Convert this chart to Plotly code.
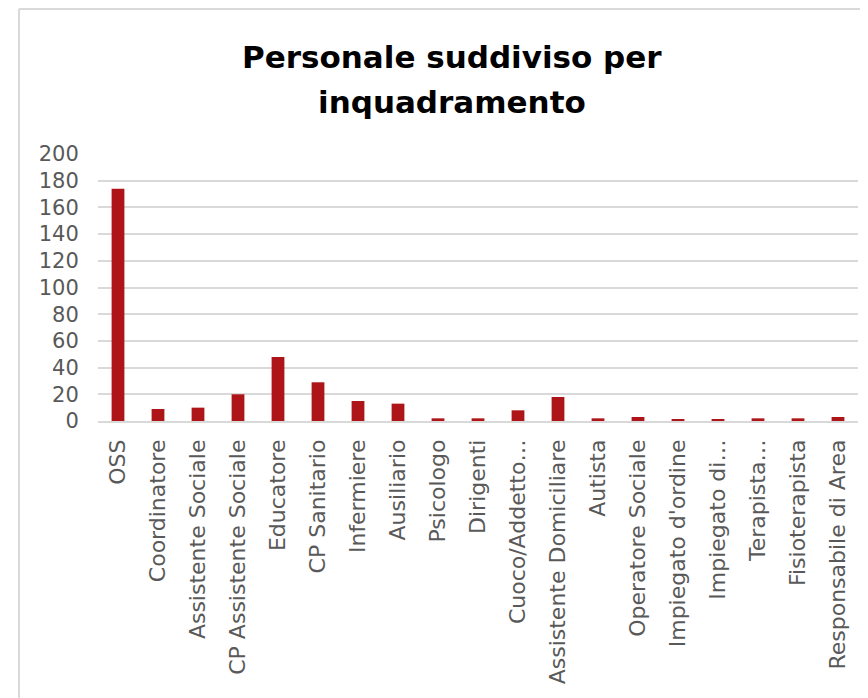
import plotly.graph_objects as go

categories = ["OSS", "Coordinatore", "Assistente Sociale", "CP Assistente Sociale",
              "Educatore", "CP Sanitario", "Infermiere", "Ausiliario", "Psicologo",
              "Dirigenti", "Cuoco/Addetto…", "Assistente Domiciliare", "Autista",
              "Operatore Sociale", "Impiegato d'ordine", "Impiegato di…", "Terapista…",
              "Fisioterapista", "Responsabile di Area"]
values = [174, 9, 10, 20, 48, 29, 15, 13, 2, 2, 8, 18, 2, 3, 1, 1, 2, 2, 3]
y_ticks = [0, 20, 40, 60, 80, 100, 120, 140, 160, 180, 200]
title_lines = ["Personale suddiviso per", "inquadramento"]

# page body has an 8px margin; work in screen pixels and subtract it
OFF = 8
W, H = 868 - OFF, 698 - OFF
ML = 98 - OFF
MT = 154 - OFF
PLOT_BOTTOM = 421 - OFF
PLOT_RIGHT = 858 - OFF
MB = H - PLOT_BOTTOM
MR = W - PLOT_RIGHT
PW, PH = W - ML - MR, H - MT - MB


def px_x(p):
    return (p - OFF - ML) / PW


def px_y(p):
    return (PLOT_BOTTOM - (p - OFF)) / PH


fig = go.Figure(go.Bar(x=categories, y=values, marker_color="#AE1518",
                       marker_line_width=0))

annotations = []
for line, cy in zip(title_lines, [57, 102]):
    annotations.append(dict(text="<b>%s</b>" % line, xref="paper", yref="paper",
                            x=px_x(452), y=px_y(cy), xanchor="center", yanchor="middle",
                            showarrow=False,
                            font=dict(family="DejaVu Sans", size=31, color="#000000")))

fig.update_layout(
    width=W, height=H,
    margin=dict(l=ML, r=MR, t=MT, b=MB, pad=0),
    paper_bgcolor="white", plot_bgcolor="white",
    bargap=0.68,
    showlegend=False,
    font=dict(family="DejaVu Sans", color="#595959"),
    annotations=annotations,
    xaxis=dict(tickangle=-90, tickfont=dict(size=22, color="#595959"),
               showline=True, linecolor="#D9D9D9", linewidth=1.5,
               ticks="outside", ticklen=8, tickcolor="rgba(0,0,0,0)",
               showgrid=False),
    yaxis=dict(range=[0, 200], tickvals=y_ticks, tickfont=dict(size=21, color="#595959"),
               showgrid=True, gridcolor="#D9D9D9", gridwidth=1.5,
               zeroline=False, showline=False, ticks="outside", ticklen=14,
               tickcolor="rgba(0,0,0,0)"),
    shapes=[
        dict(type="line", xref="paper", yref="paper",
             x0=px_x(19), x1=px_x(880), y0=px_y(9), y1=px_y(9),
             line=dict(color="#D9D9D9", width=2)),
        dict(type="line", xref="paper", yref="paper",
             x0=px_x(19), x1=px_x(19), y0=px_y(9), y1=px_y(710),
             line=dict(color="#D9D9D9", width=2)),
    ],
)

fig.write_html("out.html")
